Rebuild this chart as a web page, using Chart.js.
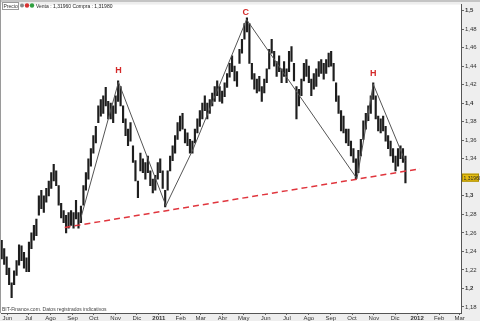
<!DOCTYPE html>
<html>
<head>
<meta charset="utf-8">
<script src="https://cdn.jsdelivr.net/npm/chart.js@4.4.1/dist/chart.umd.min.js"></script>
<style>
  html, body { margin: 0; padding: 0; background: #eeeeee; }
  #wrap { width: 480px; height: 321px; position: relative; }
</style>
</head>
<body>
<div id="wrap"><canvas id="chart"></canvas></div>
<script>
// EUR/USD bars, twice a week, days counted from 1 Jan 2011
const barStartDay = -222;
const barStepDays = 3.5;
const barLows = [
  1.232, 1.226, 1.215, 1.204, 1.190, 1.204, 1.214, 1.225, 1.230, 1.222,
  1.218, 1.218, 1.243, 1.252, 1.257, 1.279, 1.286, 1.282, 1.293, 1.300,
  1.308, 1.316, 1.311, 1.290, 1.276, 1.271, 1.260, 1.265, 1.268, 1.265,
  1.275, 1.265, 1.271, 1.290, 1.306, 1.318, 1.332, 1.346, 1.357, 1.379,
  1.386, 1.389, 1.397, 1.383, 1.383, 1.379, 1.389, 1.402, 1.397, 1.379,
  1.365, 1.354, 1.359, 1.336, 1.316, 1.298, 1.327, 1.325, 1.318, 1.325,
  1.311, 1.303, 1.306, 1.318, 1.325, 1.308, 1.288, 1.306, 1.327, 1.338,
  1.346, 1.361, 1.370, 1.372, 1.357, 1.354, 1.346, 1.346, 1.357, 1.368,
  1.375, 1.383, 1.392, 1.383, 1.389, 1.397, 1.402, 1.408, 1.402, 1.400,
  1.407, 1.417, 1.428, 1.434, 1.424, 1.418, 1.443, 1.454, 1.469, 1.477,
  1.443, 1.426, 1.415, 1.411, 1.413, 1.402, 1.411, 1.422, 1.437, 1.454,
  1.440, 1.429, 1.434, 1.422, 1.429, 1.422, 1.434, 1.445, 1.424, 1.383,
  1.397, 1.408, 1.424, 1.429, 1.422, 1.408, 1.415, 1.418, 1.429, 1.432,
  1.426, 1.432, 1.439, 1.440, 1.424, 1.402, 1.389, 1.370, 1.368, 1.357,
  1.354, 1.343, 1.336, 1.318, 1.325, 1.343, 1.361, 1.372, 1.381, 1.389,
  1.404, 1.383, 1.370, 1.368, 1.370, 1.359, 1.351, 1.343, 1.336, 1.327,
  1.332, 1.340, 1.336, 1.314
];
const barHighs = [
  1.252, 1.243, 1.234, 1.222, 1.206, 1.219, 1.230, 1.247, 1.246, 1.239,
  1.233, 1.250, 1.260, 1.268, 1.275, 1.300, 1.306, 1.300, 1.308, 1.316,
  1.325, 1.334, 1.327, 1.311, 1.292, 1.284, 1.279, 1.282, 1.284, 1.282,
  1.295, 1.282, 1.289, 1.311, 1.325, 1.340, 1.351, 1.365, 1.375, 1.397,
  1.404, 1.408, 1.417, 1.402, 1.400, 1.397, 1.408, 1.424, 1.418, 1.397,
  1.383, 1.372, 1.379, 1.354, 1.338, 1.316, 1.346, 1.340, 1.336, 1.343,
  1.327, 1.318, 1.322, 1.336, 1.340, 1.327, 1.306, 1.327, 1.343, 1.354,
  1.365, 1.379, 1.386, 1.389, 1.372, 1.368, 1.361, 1.359, 1.372, 1.383,
  1.392, 1.400, 1.408, 1.400, 1.404, 1.411, 1.418, 1.424, 1.418, 1.413,
  1.422, 1.432, 1.443, 1.451, 1.440, 1.434, 1.458, 1.469, 1.486, 1.492,
  1.486, 1.443, 1.432, 1.426, 1.429, 1.418, 1.426, 1.437, 1.458, 1.469,
  1.456, 1.445, 1.451, 1.437, 1.445, 1.437, 1.456, 1.461, 1.443, 1.418,
  1.415, 1.426, 1.443, 1.447, 1.440, 1.426, 1.432, 1.437, 1.445, 1.447,
  1.443, 1.447, 1.454, 1.456, 1.443, 1.422, 1.408, 1.392, 1.386, 1.372,
  1.372, 1.359, 1.351, 1.340, 1.349, 1.361, 1.381, 1.389, 1.397, 1.408,
  1.422, 1.408, 1.386, 1.383, 1.386, 1.375, 1.365, 1.359, 1.351, 1.343,
  1.351, 1.354, 1.351, 1.343
];
const lastPrice = 1.3196;

// hand drawn pattern (day, price)
const patternDays   = [-112, -57, 10, 48, 124, 280, 303, 348];
const patternPrices = [1.271, 1.4227, 1.2895, 1.3496, 1.4903, 1.3185, 1.4205, 1.3378];
const necklineDays   = [-133, 369];
const necklinePrices = [1.2658, 1.3292];
const markLabels = ["H", "C", "H"];
const markDays   = [-57, 123, 303];
const markPrices = [1.4356, 1.4979, 1.4323];

const monthDays = [-214, -184, -153, -122, -92, -61, -31, 0, 31, 59, 90, 120,
                   151, 181, 212, 243, 273, 304, 334, 365, 396, 425];
const monthLabels = ["Jun", "Jul", "Ago", "Sep", "Oct", "Nov", "Dic", "2011", "Feb", "Mar", "Abr", "May",
                     "Jun", "Jul", "Ago", "Sep", "Oct", "Nov", "Dic", "2012", "Feb", "Mar"];
const yTickValues = [1.18, 1.2, 1.22, 1.24, 1.26, 1.28, 1.3, 1.32, 1.34, 1.36, 1.38,
                     1.4, 1.42, 1.44, 1.46, 1.48, 1.5];
const yTickLabels = ["1,18", "1,2", "1,22", "1,24", "1,26", "1,28", "1,3", "1,32", "1,34", "1,36", "1,38",
                     "1,4", "1,42", "1,44", "1,46", "1,48", "1,5"];
const boldY = ["1,2", "1,3", "1,4", "1,5"];
const boldX = ["2011", "2012"];

const FONT = "'Liberation Sans', Arial, sans-serif";

const bars = barLows.map((lo, i) => ({ x: barStartDay + i * barStepDays, y: [lo, barHighs[i]] }));
const pattern = patternDays.map((d, i) => ({ x: d, y: patternPrices[i] }));
const neckline = necklineDays.map((d, i) => ({ x: d, y: necklinePrices[i] }));

const decor = {
  id: "decor",
  beforeDraw(chart) {
    const { ctx, chartArea: a } = chart;
    ctx.save();
    ctx.fillStyle = "#eeeeee";
    ctx.fillRect(0, 0, chart.width, chart.height);
    ctx.fillStyle = "#ffffff";
    ctx.fillRect(a.left, a.top, a.right - a.left, a.bottom - a.top);
    ctx.fillStyle = "#c4c4c4";
    ctx.fillRect(0, 0, chart.width, 2);
    ctx.fillStyle = "#9a9a9a";
    ctx.fillRect(0, 0, 1, a.bottom);
    ctx.restore();
  },
  afterDatasetsDraw(chart) {
    const { ctx, scales } = chart;
    const x = scales.x, y = scales.y;
    ctx.save();
    // H / C marks
    ctx.fillStyle = "#d42a2a";
    ctx.font = "bold 9px " + FONT;
    ctx.textAlign = "center";
    ctx.textBaseline = "middle";
    markLabels.forEach((t, i) => {
      ctx.fillText(t, x.getPixelForValue(markDays[i]), y.getPixelForValue(markPrices[i]));
    });

    // header
    ctx.fillStyle = "#ffffff";
    ctx.strokeStyle = "#9a9a9a";
    ctx.lineWidth = 1;
    ctx.fillRect(2.5, 2.5, 16, 7);
    ctx.strokeRect(2.5, 2.5, 16, 7);
    ctx.fillStyle = "#333";
    ctx.font = "5px " + FONT;
    ctx.textAlign = "left";
    ctx.textBaseline = "alphabetic";
    ctx.fillText("Precio", 3.5, 8);
    ctx.fillStyle = "#888";
    ctx.beginPath(); ctx.arc(22, 5.5, 2, 0, Math.PI * 2); ctx.fill();
    ctx.fillStyle = "#d83030";
    ctx.beginPath(); ctx.arc(27, 5.5, 2.2, 0, Math.PI * 2); ctx.fill();
    ctx.fillStyle = "#30a040";
    ctx.beginPath(); ctx.arc(32, 5.5, 2.2, 0, Math.PI * 2); ctx.fill();
    ctx.fillStyle = "#222";
    ctx.fillText("Venta : 1,31960 Compra : 1,31980", 36, 8);

    // source note
    ctx.fillStyle = "#444";
    ctx.font = "5px " + FONT;
    ctx.fillText("BIT-Finance.com. Datos registrados indicativos", 2, 311);

    // last price tag
    const py = y.getPixelForValue(lastPrice);
    ctx.fillStyle = "#e6be12";
    ctx.fillRect(462, py - 4, 17, 8);
    ctx.strokeStyle = "#a88a00";
    ctx.strokeRect(462.5, py - 3.5, 16, 7);
    ctx.fillStyle = "#222";
    ctx.font = "5px " + FONT;
    ctx.textBaseline = "middle";
    ctx.fillText("1,31960", 463.5, py + 0.5);
    ctx.restore();
  }
};

new Chart(document.getElementById("chart"), {
  type: "bar",
  data: {
    datasets: [
      {
        type: "line",
        data: neckline,
        borderColor: "#e0353d",
        borderWidth: 1.5,
        borderDash: [6, 4],
        pointRadius: 0,
        order: 1
      },
      {
        type: "line",
        data: pattern,
        borderColor: "#555555",
        borderWidth: 1,
        pointRadius: 0,
        order: 2
      },
      {
        data: bars,
        backgroundColor: "#1e1e1e",
        borderWidth: 0,
        barThickness: 1.5,
        order: 3
      }
    ]
  },
  options: {
    responsive: true,
    maintainAspectRatio: false,
    animation: false,
    layout: { padding: { top: 3, left: 1, right: 0, bottom: 0 } },
    plugins: { legend: { display: false }, tooltip: { enabled: false } },
    scales: {
      x: {
        type: "linear",
        min: -223,
        max: 427,
        offset: false,
        grid: { drawOnChartArea: false, offset: false, tickLength: 2, color: "#666" },
        border: { color: "#555" },
        afterBuildTicks: s => { s.ticks = monthDays.map(v => ({ value: v })); },
        afterFit: s => { s.height = 8; },
        ticks: {
          autoSkip: false,
          maxRotation: 0,
          padding: 0,
          color: "#333",
          font: c => ({ family: FONT, size: 6, weight: boldX.includes(monthLabels[c.index]) ? "bold" : "normal" }),
          callback: (v, i) => monthLabels[i]
        }
      },
      y: {
        position: "right",
        min: 1.1735,
        max: 1.5064,
        grid: { drawOnChartArea: false, tickLength: 3, color: "#666" },
        border: { color: "#555" },
        afterBuildTicks: s => { s.ticks = yTickValues.map(v => ({ value: v })); },
        afterFit: s => { s.width = 19; },
        ticks: {
          padding: 1,
          color: "#333",
          font: c => ({ family: FONT, size: 6, weight: boldY.includes(yTickLabels[c.index]) ? "bold" : "normal" }),
          callback: (v, i) => yTickLabels[i]
        }
      }
    }
  },
  plugins: [decor]
});
</script>
</body>
</html>
